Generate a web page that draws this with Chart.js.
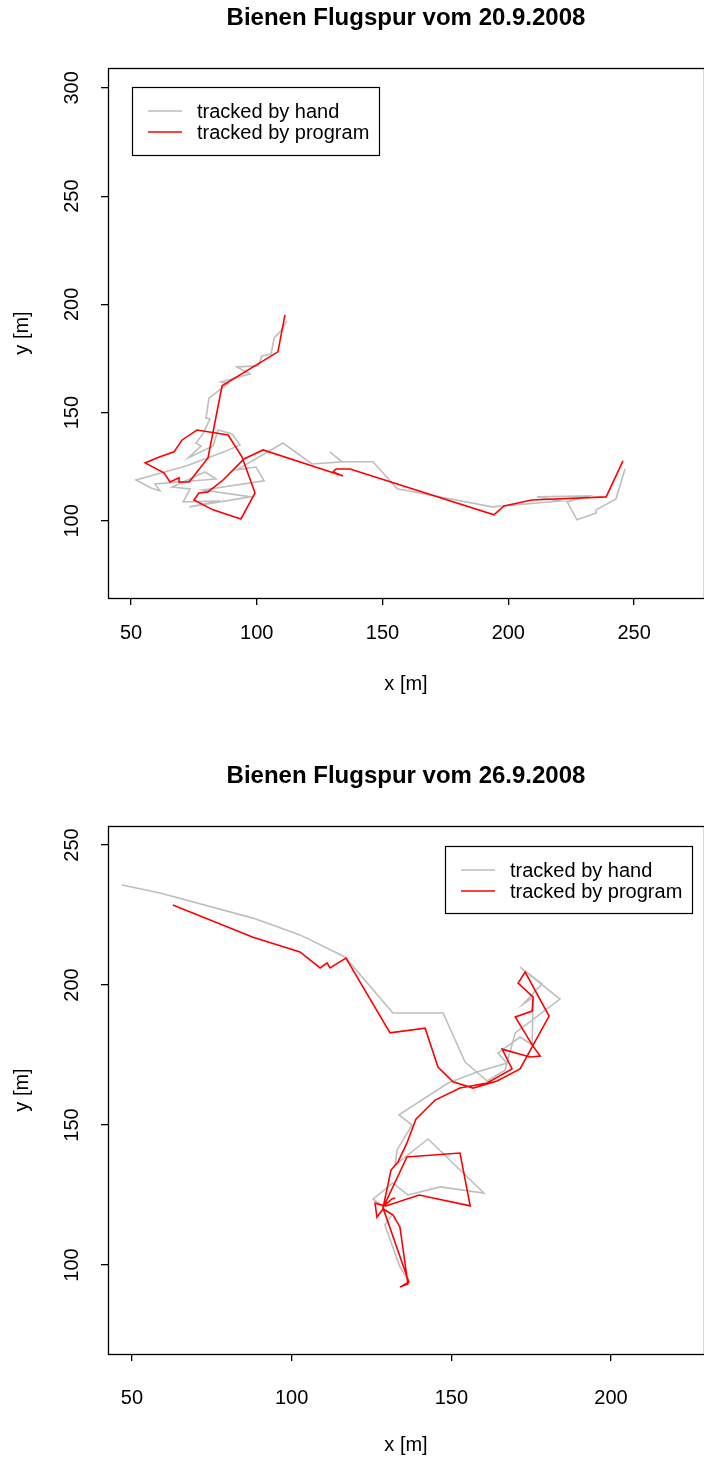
<!DOCTYPE html>
<html>
<head>
<meta charset="utf-8">
<script src="https://cdn.jsdelivr.net/npm/chart.js@4.4.1/dist/chart.umd.min.js"></script>
<style>
  html, body { margin: 0; padding: 0; background: #fff; }
  .panel { width: 704px; height: 729px; }
  canvas { display: block; }
</style>
</head>
<body>
<div class="panel"><canvas id="c1" width="704" height="729"></canvas></div>
<div class="panel"><canvas id="c2" width="704" height="729"></canvas></div>
<script>
// Flight tracks of a bee, [x, y] in metres, as tracked by hand and by the program.

const hand0920 = [
  [112.0,192.4],[109.6,187.8],[106.9,184.5],[105.7,177.1],[102.1,176.2],[100.5,171.6],
  [92.1,171.1],[97.3,167.9],[85.8,164.2],[88.6,163.3],[81.0,156.8],[79.8,147.6],
  [81.4,147.1],[78.6,140.2],[75.8,136.0],[77.8,134.6],[72.7,129.1],[82.6,134.6],
  [84.6,142.0],[90.2,140.2],[93.3,135.1],[87.0,131.9],[71.9,125.4],[52.0,118.9],
  [58.0,115.2],[61.5,113.9],[59.5,117.1],[83.8,119.4],[79.4,122.6],[66.3,115.7],
  [73.5,114.8],[70.7,108.8],[85.4,109.2],[73.1,106.5],[97.7,111.1],[78.6,114.3],
  [102.9,118.5],[99.7,124.9],[92.1,123.6],[110.4,136.0],[122.0,126.3],[133.9,127.3],
  [129.1,131.9],[133.9,127.3],[146.2,127.3],[155.8,114.8],[168.9,112.0],[193.5,106.5],
  [220.6,109.2],[211.4,111.1],[231.7,111.5],[223.4,108.8],[227.3,100.5],[234.9,103.7],
  [234.9,105.1],[242.8,110.2],[246.4,124.0]
];
const prog0920 = [
  [111.2,195.2],[108.4,178.1],[86.2,162.4],[80.6,129.1],[73.1,118.0],[69.1,118.0],
  [69.1,119.9],[65.5,118.0],[63.1,122.2],[55.6,126.8],[61.5,129.6],[67.1,131.9],
  [70.3,137.4],[76.2,142.0],[88.6,139.7],[94.1,129.6],[99.3,112.9],[93.7,100.9],
  [82.6,105.1],[75.0,109.7],[77.0,112.9],[80.6,113.4],[86.6,118.9],[91.4,124.5],
  [94.9,128.6],[102.5,132.8],[134.3,120.8],[130.3,122.6],[131.5,124.0],[137.1,124.0],
  [194.3,102.8],[198.3,106.9],[209.4,109.7],[238.9,111.1],[245.6,127.7]
];

const hand0926 = [
  [46.9,235.7],[58.8,232.9],[87.9,223.9],[102.6,217.9],[116.7,210.0],[131.7,190.0],
  [147.4,190.0],[154.3,172.5],[161.2,165.7],[166.8,169.6],[170.0,182.9],[184.0,195.0],
  [171.5,206.4],[178.4,200.4],[172.5,193.2],[175.6,195.7],[175.3,178.6],[171.5,181.4],
  [164.6,175.7],[167.4,172.1],[158.0,168.9],[149.0,165.0],[133.6,153.6],[137.7,150.0],
  [133.0,141.1],[132.4,135.7],[142.7,145.0],[160.2,125.7],[146.5,127.9],[136.4,125.0],
  [131.7,129.3],[125.5,123.6],[131.4,117.9],[129.2,114.3],[133.9,99.3],[136.4,94.6]
];
const prog0926 = [
  [62.8,228.6],[87.9,217.1],[102.6,211.8],[108.9,206.1],[111.1,207.9],[112.0,206.1],
  [117.0,209.6],[130.8,182.9],[141.8,184.6],[145.8,170.7],[150.5,165.4],[156.8,163.2],
  [164.3,165.7],[171.5,170.0],[180.6,188.9],[173.1,204.6],[170.9,200.7],[175.6,195.7],
  [175.3,190.7],[170.0,188.6],[175.3,178.6],[177.8,174.6],[174.6,174.3],[165.9,177.1],
  [169.0,170.0],[161.2,165.0],[152.7,163.2],[144.9,158.9],[142.1,155.7],[138.9,152.1],
  [136.1,143.6],[133.3,136.8],[131.1,133.9],[128.6,120.4],[136.7,93.9],[133.9,92.1],
  [136.4,93.2],[133.9,113.6],[131.7,117.9],[128.6,120.0],[126.7,117.1],[126.1,122.1],
  [129.5,121.1],[139.9,125.0],[155.9,121.1],[152.7,140.0],[136.1,138.6],[128.9,121.1],
  [131.4,123.6],[132.4,123.9]
];

const xTicks0920 = [50, 100, 150, 200, 250];
const yTicks0920 = [100, 150, 200, 250, 300];
const xTicks0926 = [50, 100, 150, 200];
const yTicks0926 = [100, 150, 200, 250];

const FONT = '"Liberation Sans", Arial, Helvetica, sans-serif';
const GREY = "#bebebe", RED = "#ff0000";

// base-graphics look: closed box, outward ticks, rotated y labels, boxed legend
const framePlugin = {
  id: "frame",
  afterDraw(chart, _args, o) {
    const { ctx, chartArea: a, scales: { x, y } } = chart;
    const cx = (a.left + a.right) / 2, cy = (a.top + a.bottom) / 2;
    ctx.save();
    ctx.strokeStyle = "#000";
    ctx.lineWidth = 1.3;
    ctx.strokeRect(a.left + 0.5, a.top + 0.5, a.right - a.left, a.bottom - a.top);

    ctx.fillStyle = "#000";
    ctx.textAlign = "center";
    ctx.textBaseline = "middle";
    ctx.font = `bold 24px ${FONT}`;
    ctx.fillText(o.title, cx, o.titleY);

    ctx.font = `20px ${FONT}`;
    x.ticks.forEach(t => ctx.fillText(String(t.value), x.getPixelForValue(t.value), o.xLabY));
    y.ticks.forEach(t => {
      ctx.save();
      ctx.translate(o.yLabX, y.getPixelForValue(t.value));
      ctx.rotate(-Math.PI / 2);
      ctx.fillText(String(t.value), 0, 0);
      ctx.restore();
    });
    ctx.fillText("x [m]", cx, o.xTitleY);
    ctx.save();
    ctx.translate(o.yTitleX, cy);
    ctx.rotate(-Math.PI / 2);
    ctx.fillText("y [m]", 0, 0);
    ctx.restore();

    // legend
    const L = o.legend;
    ctx.fillStyle = "#fff";
    ctx.fillRect(L.x, L.y, L.w, L.h);
    ctx.lineWidth = 1.2;
    ctx.strokeStyle = "#000";
    ctx.strokeRect(L.x + 0.5, L.y + 0.5, L.w, L.h);
    ctx.textAlign = "left";
    chart.data.datasets.forEach((ds, i) => {
      const ly = L.y + 24 + i * 21;
      ctx.strokeStyle = ds.borderColor;
      ctx.lineWidth = 1.6;
      ctx.beginPath();
      ctx.moveTo(L.x + 16, ly);
      ctx.lineTo(L.x + 50, ly);
      ctx.stroke();
      ctx.fillStyle = "#000";
      ctx.fillText(ds.label, L.x + 65, ly + 1);
    });
    ctx.restore();
  },
};

function trackChart(id, cfg) {
  const axis = (min, max, ticks, fitKey, fitVal) => ({
    type: "linear", min, max,
    afterBuildTicks: s => { s.ticks = ticks.map(v => ({ value: v })); },
    afterFit: s => { s[fitKey] = fitVal; },
    ticks: { display: false },
    border: { display: false },
    grid: { drawOnChartArea: false, drawTicks: true, tickLength: 7, color: "#000", lineWidth: 1.3 },
  });
  return new Chart(document.getElementById(id), {
    type: "scatter",
    data: {
      datasets: [
        { label: "tracked by hand", data: cfg.hand.map(p => ({ x: p[0], y: p[1] })),
          borderColor: GREY, order: 1 },
        { label: "tracked by program", data: cfg.prog.map(p => ({ x: p[0], y: p[1] })),
          borderColor: RED, order: 0 },
      ].map(d => Object.assign(d, { showLine: true, pointRadius: 0, borderWidth: 1.6,
        tension: 0, fill: false, backgroundColor: d.borderColor })),
    },
    options: {
      responsive: false, animation: false,
      layout: { padding: { top: cfg.areaTop, left: 0, right: 0, bottom: 0 } },
      plugins: {
        legend: { display: false }, tooltip: { enabled: false }, title: { display: false },
        frame: cfg.frame,
      },
      scales: {
        x: axis(cfg.xMin, cfg.xMax, cfg.xTicks, "height", 729 - cfg.areaBottom),
        y: axis(cfg.yMin, cfg.yMax, cfg.yTicks, "width", 108),
      },
    },
    plugins: [framePlugin],
  });
}

trackChart("c1", {
  hand: hand0920, prog: prog0920,
  xMin: 40.85, xMax: 277.8, yMin: 64.4, yMax: 309.2,
  xTicks: xTicks0920, yTicks: yTicks0920,
  areaTop: 68, areaBottom: 598,
  frame: {
    title: "Bienen Flugspur vom 20.9.2008", titleY: 18,
    xLabY: 633, xTitleY: 684, yLabX: 72, yTitleX: 22,
    legend: { x: 132, y: 87, w: 247, h: 68 },
  },
});

trackChart("c2", {
  hand: hand0926, prog: prog0926,
  xMin: 42.5, xMax: 229.1, yMin: 68.2, yMax: 256.8,
  xTicks: xTicks0926, yTicks: yTicks0926,
  areaTop: 97, areaBottom: 625,
  frame: {
    title: "Bienen Flugspur vom 26.9.2008", titleY: 47,
    xLabY: 669, xTitleY: 716, yLabX: 72, yTitleX: 22,
    legend: { x: 445, y: 117, w: 247, h: 67 },
  },
});
</script>
</body>
</html>
